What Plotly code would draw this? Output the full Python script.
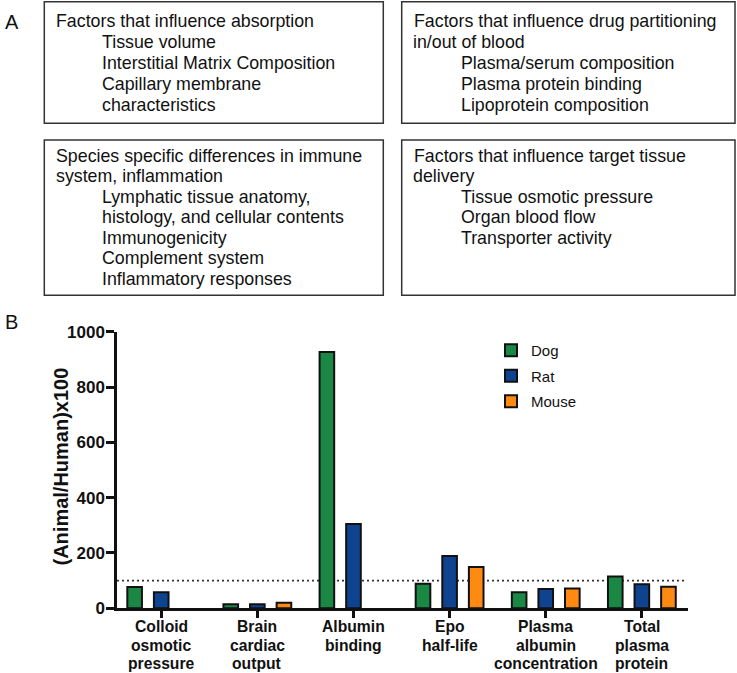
import plotly.graph_objects as go

W, H = 737, 673

category_lines = [["Colloid", "osmotic", "pressure"], ["Brain", "cardiac", "output"], ["Albumin", "binding"],
                  ["Epo", "half-life"], ["Plasma", "albumin", "concentration"], ["Total", "plasma", "protein"]]
dog = [77, 15, 927, 89, 58, 115]
rat = [58, 15, 305, 189, 70, 87]
mouse = [None, 20, None, 149, 72, 78]
series_names = ["Dog", "Rat", "Mouse"]
series_colors = ["#1b8744", "#0e438f", "#ff8a12"]
y_ticks = [0, 200, 400, 600, 800, 1000]
reference_level = 100

boxes = [
    {"lines": ["Factors that influence absorption", "Tissue volume", "Interstitial Matrix Composition",
               "Capillary membrane", "characteristics"], "indent": [0, 1, 1, 1, 1]},
    {"lines": ["Factors that influence drug partitioning", "in/out of blood", "Plasma/serum composition",
               "Plasma protein binding", "Lipoprotein composition"], "indent": [0, 0, 1, 1, 1]},
    {"lines": ["Species specific differences in immune", "system, inflammation", "Lymphatic tissue anatomy,",
               "histology, and cellular contents", "Immunogenicity", "Complement system",
               "Inflammatory responses"], "indent": [0, 0, 1, 1, 1, 1, 1]},
    {"lines": ["Factors that influence target tissue", "delivery", "Tissue osmotic pressure",
               "Organ blood flow", "Transporter activity"], "indent": [0, 0, 1, 1, 1]},
]

FONT = "Arial, Liberation Sans, sans-serif"


def X(px):
    return px / W


def Y(py):
    return 1 - py / H


x_idx = list(range(len(category_lines)))

fig = go.Figure()
for name, vals, col in zip(series_names, [dog, rat, mouse], series_colors):
    fig.add_trace(go.Bar(x=x_idx, y=vals, name=name, legendgroup=name,
                         marker=dict(color=col, line=dict(color="#111111", width=2))))

# box geometry (pixels): left, top, right, bottom, text x, indent x, first line y, line step
box_geo = [
    (44.3, 1.7, 383.3, 123.3, 53.5, 99.5, 20.5, 21.2),
    (401.7, 1.7, 735, 123.3, 411.5, 458.5, 20.5, 21.2),
    (44.3, 140, 383.3, 295.3, 53.5, 99.5, 155.5, 20.5),
    (401.7, 140, 735, 295.3, 411.5, 458.5, 155.5, 20.5),
]

shapes = []
annotations = []
for b, g in zip(boxes, box_geo):
    l, t, r, btm, tx, ix, y0, step = g
    shapes.append(dict(type="rect", xref="paper", yref="paper", x0=X(l), x1=X(r), y0=Y(btm), y1=Y(t),
                       line=dict(color="#333333", width=1.5), fillcolor="rgba(0,0,0,0)"))
    for i, (txt, ind) in enumerate(zip(b["lines"], b["indent"])):
        annotations.append(dict(text=txt, xref="paper", yref="paper", x=X(ix if ind else tx),
                                y=Y(y0 + i * step), xanchor="left", yanchor="middle", showarrow=False,
                                font=dict(family=FONT, size=17.8, color="#111111")))

annotations.append(dict(text="A", xref="paper", yref="paper", x=X(3), y=Y(21.5), xanchor="left",
                        yanchor="middle", showarrow=False, font=dict(family=FONT, size=20, color="#111111")))
annotations.append(dict(text="B", xref="paper", yref="paper", x=X(3), y=Y(321.5), xanchor="left",
                        yanchor="middle", showarrow=False, font=dict(family=FONT, size=20, color="#111111")))
annotations.append(dict(text="(Animal/Human)x100", xref="paper", yref="paper", x=X(60), y=Y(466.5),
                        xanchor="center", yanchor="middle", textangle=-90, showarrow=False,
                        font=dict(family=FONT, size=20, color="#111111", weight="bold")))

# category labels, one annotation per line for tight line spacing
label_rows = [626.7, 645.0, 663.3]
for i, lines in zip(x_idx, category_lines):
    for j, txt in enumerate(lines):
        annotations.append(dict(text=txt, xref="x", yref="paper", x=i, y=Y(label_rows[j]),
                                xanchor="center", yanchor="middle", showarrow=False,
                                font=dict(family=FONT, size=15.7, color="#111111", weight="bold")))

shapes.append(dict(type="line", xref="x domain", yref="y", x0=0, x1=0.995, y0=reference_level,
                   y1=reference_level, line=dict(color="#333333", width=1.8, dash="2px,3px"), layer="below"))

fig.update_layout(
    width=W, height=H,
    margin=dict(l=0, r=0, t=0, b=0),
    paper_bgcolor="white", plot_bgcolor="white",
    barmode="group", bargap=0.17, bargroupgap=0.45,
    shapes=shapes, annotations=annotations,
    showlegend=True,
    legend=dict(x=X(491), y=Y(334), xanchor="left", yanchor="top", bgcolor="rgba(0,0,0,0)",
                font=dict(family=FONT, size=15, color="#111111"), tracegroupgap=3),
    xaxis=dict(domain=[X(117), X(688)], range=[-0.46, 5.48], tickmode="array", tickvals=x_idx,
               showticklabels=False, showline=True, linecolor="#111111", linewidth=2.5,
               ticks="outside", ticklen=7, tickwidth=2.5, tickcolor="#111111", showgrid=False,
               zeroline=False, automargin=False, fixedrange=True),
    yaxis=dict(domain=[Y(608.3), Y(331.7)], range=[0, 1000], tickmode="array", tickvals=y_ticks,
               showline=True, linecolor="#111111", linewidth=2.5, ticks="outside", ticklen=8,
               tickwidth=2.5, tickcolor="#111111", showgrid=False, zeroline=False,
               ticklabelstandoff=-2,
               tickfont=dict(family=FONT, size=17, color="#111111", weight="bold"),
               automargin=False, fixedrange=True),
)

fig.write_html("out.html", post_script="document.body.style.margin='0';",
               config={"displayModeBar": False})
